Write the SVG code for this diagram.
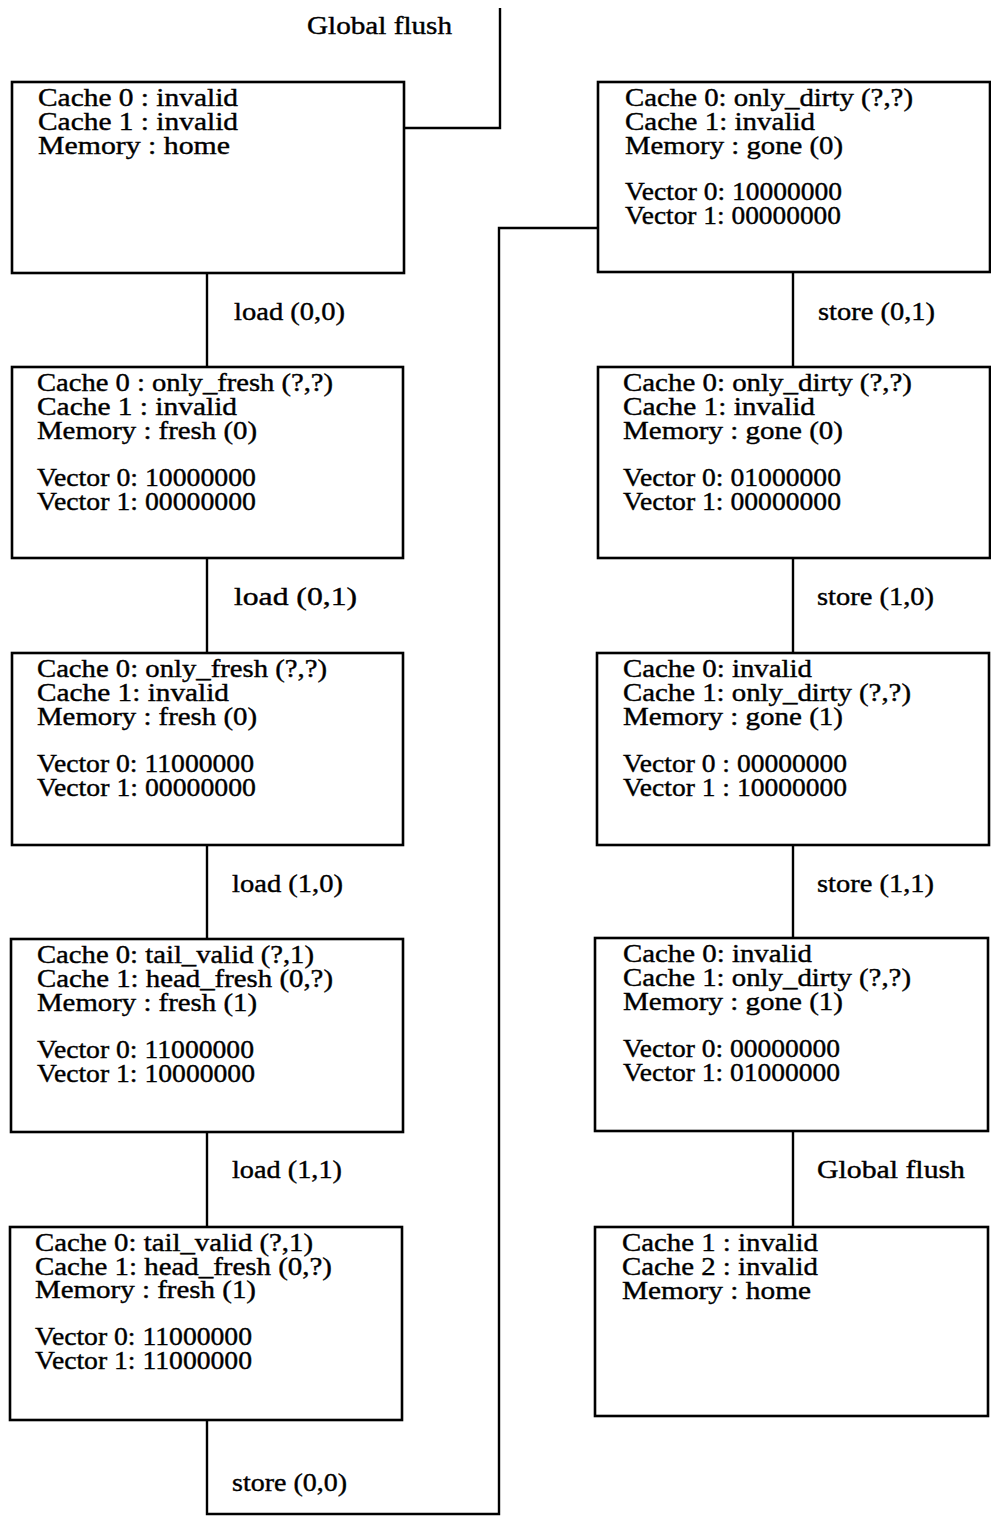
<svg xmlns="http://www.w3.org/2000/svg" width="991" height="1516" viewBox="0 0 991 1516">
<style>
.box{fill:#fff;stroke:#000;stroke-width:2.6}
.con{fill:none;stroke:#000;stroke-width:2.4}
text{font-family:"Liberation Serif","Times New Roman",serif;font-size:26px;fill:#000;stroke:#000;stroke-width:0.4}
</style>
<rect width="991" height="1516" fill="#fff"/>
<g id="connectors">
<polyline class="con" points="500,8 500,128 404,128"/>
<line class="con" x1="207" y1="273" x2="207" y2="367"/>
<line class="con" x1="207" y1="558" x2="207" y2="653"/>
<line class="con" x1="207" y1="845" x2="207" y2="939"/>
<line class="con" x1="207" y1="1132" x2="207" y2="1227"/>
<polyline class="con" points="207,1420 207,1514 499,1514 499,228 598,228"/>
<line class="con" x1="793" y1="272" x2="793" y2="367"/>
<line class="con" x1="793" y1="558" x2="793" y2="653"/>
<line class="con" x1="793" y1="845" x2="793" y2="938"/>
<line class="con" x1="793" y1="1131" x2="793" y2="1227"/>
<text x="307" y="34" textLength="145" lengthAdjust="spacingAndGlyphs">Global flush</text>
<text x="234" y="320" textLength="111" lengthAdjust="spacingAndGlyphs">load (0,0)</text>
<text x="234" y="605" textLength="123" lengthAdjust="spacingAndGlyphs">load (0,1)</text>
<text x="232" y="892" textLength="111" lengthAdjust="spacingAndGlyphs">load (1,0)</text>
<text x="232" y="1178" textLength="110" lengthAdjust="spacingAndGlyphs">load (1,1)</text>
<text x="232" y="1491" textLength="115" lengthAdjust="spacingAndGlyphs">store (0,0)</text>
<text x="818" y="320" textLength="117" lengthAdjust="spacingAndGlyphs">store (0,1)</text>
<text x="817" y="605" textLength="117" lengthAdjust="spacingAndGlyphs">store (1,0)</text>
<text x="817" y="892" textLength="117" lengthAdjust="spacingAndGlyphs">store (1,1)</text>
<text x="817" y="1178" textLength="148" lengthAdjust="spacingAndGlyphs">Global flush</text>
</g>
<g id="L1">
<rect class="box" x="12" y="82" width="392" height="191"/>
<text x="38" y="106" textLength="200" lengthAdjust="spacingAndGlyphs">Cache 0 : invalid</text>
<text x="38" y="130" textLength="200" lengthAdjust="spacingAndGlyphs">Cache 1 : invalid</text>
<text x="38" y="154" textLength="192" lengthAdjust="spacingAndGlyphs">Memory : home</text>
</g>
<g id="L2">
<rect class="box" x="12" y="367" width="391" height="191"/>
<text x="37" y="391" textLength="296" lengthAdjust="spacingAndGlyphs">Cache 0 : only_fresh (?,?)</text>
<text x="37" y="415" textLength="200" lengthAdjust="spacingAndGlyphs">Cache 1 : invalid</text>
<text x="37" y="439" textLength="220" lengthAdjust="spacingAndGlyphs">Memory : fresh (0)</text>
<text x="37" y="486" textLength="219" lengthAdjust="spacingAndGlyphs">Vector 0: 10000000</text>
<text x="37" y="510" textLength="219" lengthAdjust="spacingAndGlyphs">Vector 1: 00000000</text>
</g>
<g id="L3">
<rect class="box" x="12" y="653" width="391" height="192"/>
<text x="37" y="677" textLength="290" lengthAdjust="spacingAndGlyphs">Cache 0: only_fresh (?,?)</text>
<text x="37" y="701" textLength="192" lengthAdjust="spacingAndGlyphs">Cache 1: invalid</text>
<text x="37" y="725" textLength="220" lengthAdjust="spacingAndGlyphs">Memory : fresh (0)</text>
<text x="37" y="772" textLength="217" lengthAdjust="spacingAndGlyphs">Vector 0: 11000000</text>
<text x="37" y="796" textLength="219" lengthAdjust="spacingAndGlyphs">Vector 1: 00000000</text>
</g>
<g id="L4">
<rect class="box" x="11" y="939" width="392" height="193"/>
<text x="37" y="963" textLength="277" lengthAdjust="spacingAndGlyphs">Cache 0: tail_valid (?,1)</text>
<text x="37" y="987" textLength="296" lengthAdjust="spacingAndGlyphs">Cache 1: head_fresh (0,?)</text>
<text x="37" y="1011" textLength="220" lengthAdjust="spacingAndGlyphs">Memory : fresh (1)</text>
<text x="37" y="1058" textLength="217" lengthAdjust="spacingAndGlyphs">Vector 0: 11000000</text>
<text x="37" y="1082" textLength="218" lengthAdjust="spacingAndGlyphs">Vector 1: 10000000</text>
</g>
<g id="L5">
<rect class="box" x="10" y="1227" width="392" height="193"/>
<text x="35" y="1251" textLength="278" lengthAdjust="spacingAndGlyphs">Cache 0: tail_valid (?,1)</text>
<text x="35" y="1275" textLength="297" lengthAdjust="spacingAndGlyphs">Cache 1: head_fresh (0,?)</text>
<text x="35" y="1298" textLength="221" lengthAdjust="spacingAndGlyphs">Memory : fresh (1)</text>
<text x="35" y="1345" textLength="217" lengthAdjust="spacingAndGlyphs">Vector 0: 11000000</text>
<text x="35" y="1369" textLength="217" lengthAdjust="spacingAndGlyphs">Vector 1: 11000000</text>
</g>
<g id="R1">
<rect class="box" x="598" y="82" width="392" height="190"/>
<text x="625" y="106" textLength="288" lengthAdjust="spacingAndGlyphs">Cache 0: only_dirty (?,?)</text>
<text x="625" y="130" textLength="190" lengthAdjust="spacingAndGlyphs">Cache 1: invalid</text>
<text x="625" y="154" textLength="218" lengthAdjust="spacingAndGlyphs">Memory : gone (0)</text>
<text x="625" y="200" textLength="217" lengthAdjust="spacingAndGlyphs">Vector 0: 10000000</text>
<text x="625" y="224" textLength="216" lengthAdjust="spacingAndGlyphs">Vector 1: 00000000</text>
</g>
<g id="R2">
<rect class="box" x="598" y="367" width="392" height="191"/>
<text x="623" y="391" textLength="289" lengthAdjust="spacingAndGlyphs">Cache 0: only_dirty (?,?)</text>
<text x="623" y="415" textLength="192" lengthAdjust="spacingAndGlyphs">Cache 1: invalid</text>
<text x="623" y="439" textLength="220" lengthAdjust="spacingAndGlyphs">Memory : gone (0)</text>
<text x="623" y="486" textLength="218" lengthAdjust="spacingAndGlyphs">Vector 0: 01000000</text>
<text x="623" y="510" textLength="218" lengthAdjust="spacingAndGlyphs">Vector 1: 00000000</text>
</g>
<g id="R3">
<rect class="box" x="597" y="653" width="392" height="192"/>
<text x="623" y="677" textLength="189" lengthAdjust="spacingAndGlyphs">Cache 0: invalid</text>
<text x="623" y="701" textLength="288" lengthAdjust="spacingAndGlyphs">Cache 1: only_dirty (?,?)</text>
<text x="623" y="725" textLength="220" lengthAdjust="spacingAndGlyphs">Memory : gone (1)</text>
<text x="623" y="772" textLength="224" lengthAdjust="spacingAndGlyphs">Vector 0 : 00000000</text>
<text x="623" y="796" textLength="224" lengthAdjust="spacingAndGlyphs">Vector 1 : 10000000</text>
</g>
<g id="R4">
<rect class="box" x="595" y="938" width="393" height="193"/>
<text x="623" y="962" textLength="189" lengthAdjust="spacingAndGlyphs">Cache 0: invalid</text>
<text x="623" y="986" textLength="288" lengthAdjust="spacingAndGlyphs">Cache 1: only_dirty (?,?)</text>
<text x="623" y="1010" textLength="220" lengthAdjust="spacingAndGlyphs">Memory : gone (1)</text>
<text x="623" y="1057" textLength="217" lengthAdjust="spacingAndGlyphs">Vector 0: 00000000</text>
<text x="623" y="1081" textLength="217" lengthAdjust="spacingAndGlyphs">Vector 1: 01000000</text>
</g>
<g id="R5">
<rect class="box" x="595" y="1227" width="393" height="189"/>
<text x="622" y="1251" textLength="196" lengthAdjust="spacingAndGlyphs">Cache 1 : invalid</text>
<text x="622" y="1275" textLength="196" lengthAdjust="spacingAndGlyphs">Cache 2 : invalid</text>
<text x="622" y="1299" textLength="189" lengthAdjust="spacingAndGlyphs">Memory : home</text>
</g>
</svg>
